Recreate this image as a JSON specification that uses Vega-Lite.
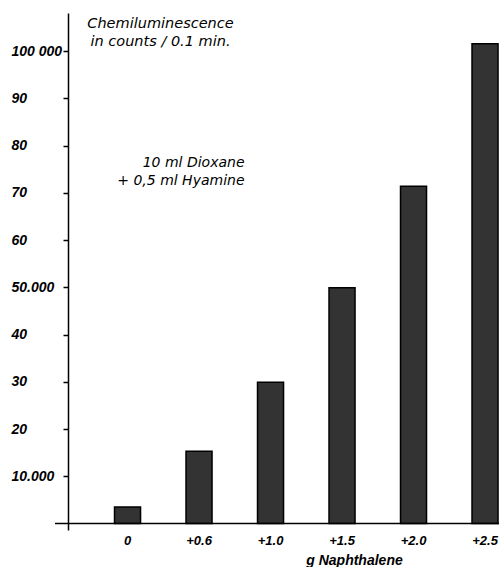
{
  "$schema": "https://vega.github.io/schema/vega-lite/v6.json",
  "autosize": {"type": "none"},
  "width": 444,
  "height": 517,
  "padding": {"left": 55, "top": 13, "right": 0, "bottom": 37},
  "background": "white",
  "config": {
    "view": {"stroke": null},
    "font": "DejaVu Sans",
    "axis": {"grid": false, "labelColor": "black", "titleColor": "black", "labelFont": "Liberation Sans", "titleFont": "DejaVu Sans"}
  },
  "datasets": {
    "bars": [
      {"naphthalene": "0", "counts": 3500},
      {"naphthalene": "+0.6", "counts": 15300},
      {"naphthalene": "+1.0", "counts": 29900},
      {"naphthalene": "+1.5", "counts": 49900},
      {"naphthalene": "+2.0", "counts": 71400},
      {"naphthalene": "+2.5", "counts": 101600}
    ],
    "notes": [
      {"naphthalene": "+1.0", "counts": 75500, "note": ["10 ml Dioxane", "+ 0,5 ml Hyamine"]}
    ]
  },
  "encoding": {
    "x": {
      "field": "naphthalene",
      "type": "nominal",
      "sort": null,
      "scale": {"paddingInner": 0.636, "paddingOuter": 0.423, "align": 0.984},
      "axis": {
        "title": "g  Naphthalene",
        "titleFont": "Liberation Sans",
        "titleFontSize": 14,
        "titleFontStyle": "italic",
        "titleFontWeight": "bold",
        "titleX": 299,
        "titleY": 23,
        "titleAlign": "center",
        "titleBaseline": "top",
        "labelAngle": 0,
        "labelFontSize": 13,
        "labelFontStyle": "italic",
        "labelFontWeight": "bold",
        "labelPadding": 4,
        "ticks": false,
        "domain": false
      }
    },
    "y": {
      "field": "counts",
      "type": "quantitative",
      "scale": {"domain": [-1380, 108100], "nice": false, "zero": false},
      "axis": {
        "offset": -13,
        "values": [10000, 20000, 30000, 40000, 50000, 60000, 70000, 80000, 90000, 100000],
        "labelExpr": "datum.value == 100000 ? '100 000' : datum.value == 50000 ? '50.000' : datum.value == 10000 ? '10.000' : format(datum.value / 1000, 'd')",
        "labelAlign": "left",
        "labelPadding": 52,
        "labelFontSize": 14,
        "labelFontStyle": "italic",
        "labelFontWeight": "bold",
        "labelBaseline": "middle",
        "tickSize": 5,
        "tickColor": "black",
        "tickWidth": 1.5,
        "domainColor": "black",
        "domainWidth": 1.5,
        "title": ["Chemiluminescence", "in counts / 0.1 min."],
        "titleAngle": 0,
        "titleAlign": "center",
        "titleBaseline": "alphabetic",
        "titleX": 92,
        "titleY": 14,
        "titleLineHeight": 18,
        "titleFontSize": 14.5,
        "titleFontStyle": "italic",
        "titleFontWeight": "normal"
      }
    }
  },
  "layer": [
    {
      "data": {"name": "bars"},
      "mark": {"type": "bar", "fill": "#333333", "stroke": "black", "strokeWidth": 1.5}
    },
    {
      "data": {"values": [{"base": 0}]},
      "mark": {"type": "rule", "color": "black", "strokeWidth": 1.5},
      "encoding": {"y": {"field": "base", "type": "quantitative"}, "x": null}
    },
    {
      "data": {"name": "notes"},
      "mark": {"type": "text", "align": "right", "baseline": "alphabetic", "dx": -26, "fontSize": 14, "fontStyle": "italic", "lineHeight": 18, "color": "black"},
      "encoding": {"text": {"field": "note"}}
    }
  ]
}
